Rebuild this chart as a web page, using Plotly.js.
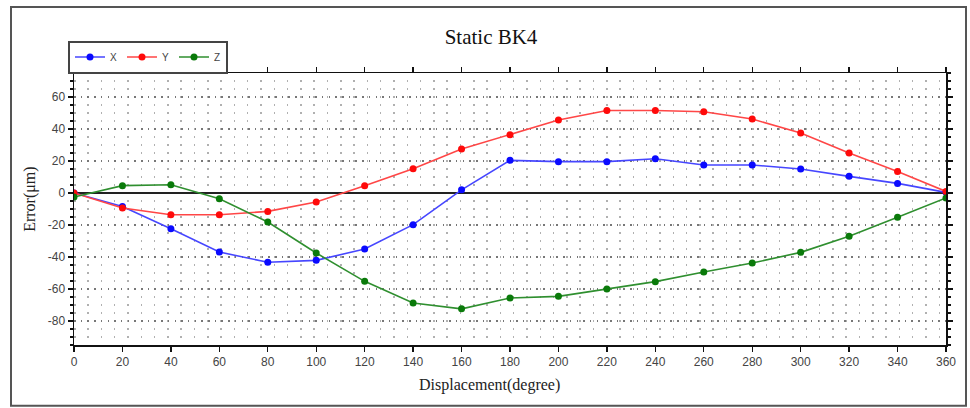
<!DOCTYPE html>
<html>
<head>
<meta charset="utf-8">
<script src="https://cdn.plot.ly/plotly-3.0.1.min.js"></script>
<style>html,body{margin:0;padding:0;background:#fff}#chart{width:970px;height:408px}</style>
</head>
<body>
<div id="chart"></div>
<script>
const displacement = [0,20,40,60,80,100,120,140,160,180,200,220,240,260,280,300,320,340,360];
const errX = [0,-8.4,-22.3,-36.9,-43.3,-42.1,-35,-19.8,2,20.4,19.6,19.6,21.4,17.5,17.5,15,10.4,6,0.4];
const errY = [0,-9.4,-13.6,-13.6,-11.5,-5.6,4.6,15.2,27.5,36.4,45.6,51.6,51.6,50.8,46.2,37.5,25,13.5,1];
const errZ = [-2.5,4.6,5.2,-3.6,-18.1,-37.5,-55.2,-68.8,-72.4,-65.6,-64.6,-60,-55.4,-49.4,-43.8,-37.1,-27.1,-15.2,-3.1];
const xTicks = [0,20,40,60,80,100,120,140,160,180,200,220,240,260,280,300,320,340,360];
const yTicks = [-80,-60,-40,-20,0,20,40,60];

const mk = (name, y, lc, mc) => ({
  x: displacement, y: y, name: name, type: 'scatter', mode: 'lines+markers',
  line: {color: lc, width: 1.6},
  marker: {color: mc, size: 7, symbol: 'circle'}
});

const data = [
  mk('X', errX, '#4646ff', '#0a0aff'),
  mk('Y', errY, '#ff4646', '#ff0a0a'),
  mk('Z', errZ, '#2f8f2f', '#0a7a0a')
];

const L = 74, R = 946, T = 73, B = 345.3;
const pw = R - L, ph = B - T;
const px = v => (v - L) / pw;
const py = v => (B - v) / ph;

const layout = {
  width: 970, height: 408,
  margin: {l: L, r: 970 - R, t: T, b: 408 - B},
  paper_bgcolor: '#fff', plot_bgcolor: '#fff',
  showlegend: true,
  title: {text: 'Static BK4', x: 491/970, xanchor: 'center', y: 1 - 37/408, yanchor: 'middle',
          font: {family: 'Liberation Serif, Times New Roman, serif', size: 21, color: '#111'}},
  xaxis: {
    range: [0, 360], tickvals: xTicks, ticktext: xTicks.map(String),
    showgrid: false, zeroline: false,
    showline: true, linecolor: '#111', linewidth: 1.5, mirror: 'ticks',
    ticks: 'outside', ticklen: 5, tickwidth: 1.3, tickcolor: '#111',
    tickfont: {family: 'Liberation Sans, Arial, sans-serif', size: 12, color: '#444'},
    title: {text: ''}
  },
  yaxis: {
    range: [-95, 75], tickvals: yTicks, ticktext: yTicks.map(String),
    showgrid: true, gridcolor: '#777', gridwidth: 1.5, griddash: '1.5px,5.2px',
    zeroline: true, zerolinecolor: '#222', zerolinewidth: 2,
    showline: true, linecolor: '#111', linewidth: 1.5, mirror: 'ticks',
    ticks: 'outside', ticklen: 5, tickwidth: 1.3, tickcolor: '#111',
    tickfont: {family: 'Liberation Sans, Arial, sans-serif', size: 12, color: '#444'},
    minor: {dtick: 5, showgrid: true, gridcolor: '#b0b0b0', gridwidth: 1.5, griddash: '1.5px,11.8px',
            ticks: 'outside', ticklen: 3, tickcolor: '#111', tickwidth: 1.2},
    title: {text: ''}
  },
  legend: {
    orientation: 'h', x: px(68), xanchor: 'left', y: py(57), yanchor: 'middle',
    bgcolor: '#fff', bordercolor: '#444', borderwidth: 2,
    font: {family: 'Liberation Sans, Arial, sans-serif', size: 10, color: '#444'},
    itemwidth: 30, tracegroupgap: 0
  },
  annotations: [
    {text: 'Error(μm)', xref: 'paper', yref: 'paper', x: px(30), y: py(200), xanchor: 'center', yanchor: 'middle',
     textangle: -90, showarrow: false, font: {family: 'Liberation Serif, Times New Roman, serif', size: 16, color: '#222'}},
    {text: 'Displacement(degree)', xref: 'paper', yref: 'paper', x: px(489), y: py(385), xanchor: 'center', yanchor: 'middle',
     showarrow: false, font: {family: 'Liberation Serif, Times New Roman, serif', size: 16, color: '#222'}}
  ],
  shapes: [
    {type: 'rect', xref: 'paper', yref: 'paper', x0: px(11), x1: px(966), y0: py(406), y1: py(7),
     line: {color: '#555', width: 2}, fillcolor: 'rgba(0,0,0,0)', layer: 'below'}
  ]
};

Plotly.newPlot('chart', data, layout, {displayModeBar: false, staticPlot: true});
</script>
</body>
</html>
